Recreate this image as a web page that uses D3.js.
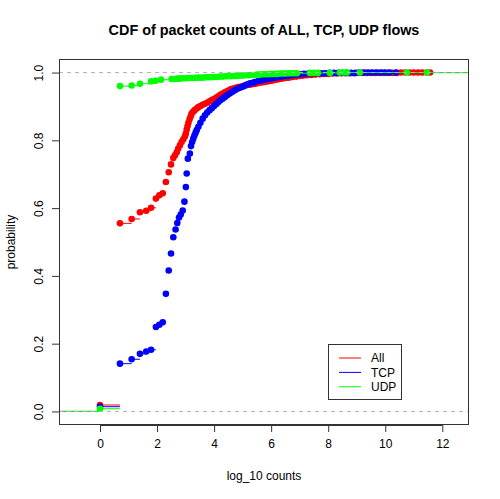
<!DOCTYPE html>
<html>
<head>
<meta charset="utf-8">
<script src="https://cdn.jsdelivr.net/npm/d3@7"></script>
<style>
  html, body { margin: 0; padding: 0; background: #fff; }
  svg { display: block; font-family: "Liberation Sans", Arial, sans-serif; }
</style>
</head>
<body>
<svg id="chart" width="500" height="499"></svg>
<script>
// ---- data ----
const seriesNames = ["All", "TCP", "UDP"];
const xTicks = [0, 2, 4, 6, 8, 10, 12];
const yTicks = [0, 0.2, 0.4, 0.6, 0.8, 1.0];

const allPts = [[0,0.019],[0.70,0.555],[1.11,0.568],[1.40,0.588],[1.62,0.592],[1.79,0.601],[1.96,0.628],[2.08,0.638],[2.20,0.644],[2.31,0.677],[2.41,0.706],[2.49,0.729],[2.57,0.748],[2.63,0.756],[2.69,0.765],[2.74,0.775],[2.80,0.785],[2.86,0.795],[2.92,0.803],[2.98,0.812],[3.01,0.820],[3.04,0.832],[3.07,0.842],[3.10,0.852],[3.14,0.862],[3.18,0.871],[3.21,0.878],[3.26,0.884],[3.32,0.889],[3.39,0.894],[3.45,0.898],[3.52,0.901],[3.60,0.905],[3.68,0.908],[3.76,0.911],[3.84,0.915],[3.92,0.919],[4.00,0.922],[4.08,0.926],[4.15,0.930],[4.22,0.934],[4.30,0.938],[4.38,0.942],[4.45,0.945],[4.52,0.948],[4.60,0.951],[4.68,0.953],[4.76,0.955],[4.85,0.957],[4.95,0.959],[5.05,0.961],[5.15,0.963],[5.25,0.964],[5.35,0.966],[5.45,0.967],[5.55,0.969],[5.67,0.971],[5.78,0.972],[5.90,0.974],[6.02,0.976],[6.13,0.978],[6.25,0.980],[6.37,0.982],[6.50,0.984],[6.62,0.985],[6.75,0.987],[6.88,0.988],[7.00,0.990],[7.13,0.991],[7.26,0.992],[7.40,0.993],[7.55,0.994],[7.70,0.995],[7.85,0.996],[8.00,0.996],[8.15,0.997],[8.30,0.997],[8.45,0.998],[8.60,0.998],[8.75,0.998],[8.90,0.998],[9.05,0.999],[9.20,0.999],[9.35,0.999],[9.50,0.999],[9.65,0.999],[9.80,0.999],[9.95,0.999],[10.10,0.999],[10.25,0.999],[10.40,0.999],[10.55,1.0],[10.70,1.0],[10.85,1.0],[11.00,1.0],[11.15,1.0],[11.30,1.0],[11.45,1.0],[11.57,1.0]];

const tcpPts = [[0,0.014],[0.70,0.141],[1.11,0.154],[1.40,0.170],[1.62,0.177],[1.79,0.182],[1.96,0.249],[2.08,0.256],[2.20,0.263],[2.31,0.347],[2.41,0.416],[2.49,0.466],[2.57,0.514],[2.65,0.537],[2.71,0.556],[2.77,0.572],[2.83,0.581],[2.90,0.593],[2.96,0.619],[3.01,0.662],[3.04,0.702],[3.08,0.746],[3.15,0.761],[3.19,0.783],[3.23,0.795],[3.27,0.805],[3.31,0.814],[3.35,0.822],[3.39,0.830],[3.45,0.840],[3.52,0.852],[3.60,0.864],[3.68,0.874],[3.76,0.882],[3.84,0.889],[3.92,0.895],[4.00,0.901],[4.08,0.907],[4.15,0.913],[4.22,0.918],[4.30,0.923],[4.38,0.928],[4.46,0.933],[4.55,0.938],[4.64,0.943],[4.73,0.948],[4.82,0.952],[4.91,0.955],[5.00,0.958],[5.08,0.962],[5.17,0.965],[5.26,0.968],[5.35,0.970],[5.43,0.972],[5.55,0.975],[5.67,0.977],[5.78,0.979],[5.90,0.981],[6.02,0.983],[6.13,0.985],[6.25,0.986],[6.37,0.988],[6.50,0.990],[6.62,0.991],[6.75,0.992],[6.88,0.994],[7.00,0.995],[7.15,0.996],[7.30,0.997],[7.45,0.997],[7.60,0.998],[7.75,0.998],[7.90,0.998],[8.05,0.999],[8.20,0.999],[8.35,0.999],[8.50,0.999],[8.65,0.999],[8.80,0.999],[8.95,0.999],[9.10,1.0],[9.25,1.0],[9.40,1.0],[9.55,1.0],[9.70,1.0],[9.85,1.0],[10.00,1.0],[10.15,1.0],[10.37,1.0]];

const udpPts = [[0,0.008],[0.70,0.960],[1.11,0.962],[1.40,0.967],[1.79,0.974],[1.95,0.976],[2.14,0.979],[2.51,0.981],[2.60,0.981],[2.70,0.982],[2.80,0.982],[2.90,0.983],[3.00,0.983],[3.10,0.984],[3.20,0.984],[3.30,0.984],[3.40,0.985],[3.50,0.985],[3.60,0.985],[3.70,0.986],[3.80,0.986],[3.90,0.986],[4.00,0.987],[4.10,0.987],[4.20,0.988],[4.30,0.988],[4.40,0.989],[4.50,0.989],[4.60,0.989],[4.70,0.990],[4.80,0.990],[4.90,0.991],[5.00,0.991],[5.10,0.992],[5.20,0.992],[5.30,0.993],[5.40,0.993],[5.50,0.994],[5.60,0.994],[5.70,0.995],[5.80,0.995],[5.90,0.995],[6.00,0.996],[6.10,0.996],[6.20,0.996],[6.30,0.997],[6.40,0.997],[6.50,0.997],[6.60,0.998],[6.70,0.998],[6.80,0.998],[6.90,0.998],[7.36,0.999],[7.50,0.999],[7.64,0.999],[8.06,0.999],[8.41,1.0],[8.55,1.0],[8.66,1.0],[9.11,1.0],[10.76,1.0],[11.46,1.0]];

const seriesData = [allPts, tcpPts, udpPts];
const seriesColors = ["#FF0000", "#0000FF", "#00FF00"];

// ---- layout ----
const svg = d3.select("#chart");
const L = 59, R = 469, T = 59, B = 425;
const x = d3.scaleLinear().domain([-1.437, 12.936]).range([L, R]);
const y = d3.scaleLinear().domain([-0.04, 1.04]).range([B, T]);

const plot = svg.append("g");

seriesData.forEach((pts, i) => {
  const col = seriesColors[i];
  const g = plot.append("g");
  // step segments
  const segs = [];
  segs.push([x.domain()[0], pts[0][0], 0]);
  for (let k = 0; k < pts.length; k++) {
    const x2 = k < pts.length - 1 ? pts[k + 1][0] : x.domain()[1];
    segs.push([pts[k][0], x2, pts[k][1]]);
  }
  g.selectAll("line").data(segs).join("line")
    .attr("x1", d => x(d[0])).attr("x2", d => x(d[1]))
    .attr("y1", d => y(d[2])).attr("y2", d => y(d[2]))
    .attr("stroke", col).attr("stroke-width", 1);
  g.selectAll("circle").data(pts).join("circle")
    .attr("cx", d => x(d[0])).attr("cy", d => y(d[1]))
    .attr("r", 3.3).attr("fill", col);
});

// dashed 0/1 lines
plot.selectAll("line.ref").data([0, 1]).join("line")
  .attr("class", "ref")
  .attr("x1", L).attr("x2", R)
  .attr("y1", d => y(d)).attr("y2", d => y(d))
  .attr("stroke", "#B3B3B3").attr("stroke-width", 1)
  .attr("stroke-dasharray", "4,4");

// box
svg.append("rect")
  .attr("x", L + 0.5).attr("y", T + 0.5)
  .attr("width", R - L - 1).attr("height", B - T - 1)
  .attr("fill", "none").attr("stroke", "#333").attr("stroke-width", 1);

// axes
const xAxis = d3.axisBottom(x).tickValues(xTicks).tickSize(7).tickPadding(7).tickFormat(d3.format("d"));
const gx = svg.append("g").attr("transform", `translate(0,${B})`).call(xAxis);
gx.select(".domain").attr("d", `M${x(0)},0.5H${x(12)}`).attr("stroke", "#333");
gx.selectAll(".tick line").attr("stroke", "#333");
gx.selectAll("text").attr("font-size", 12).attr("fill", "#000").attr("font-family", "Liberation Sans, Arial, sans-serif");

const yAxis = d3.axisLeft(y).tickValues(yTicks).tickSize(7).tickFormat(d3.format(".1f"));
const gy = svg.append("g").attr("transform", `translate(${L},0)`).call(yAxis);
gy.select(".domain").attr("d", `M0.5,${y(0)}V${y(1)}`).attr("stroke", "#333");
gy.selectAll(".tick line").attr("stroke", "#333");
gy.selectAll("text")
  .attr("font-size", 12).attr("fill", "#000").attr("font-family", "Liberation Sans, Arial, sans-serif")
  .attr("x", null).attr("dy", null)
  .attr("text-anchor", "middle")
  .attr("transform", "translate(-16,0) rotate(-90)");

// titles
svg.append("text").attr("x", (L + R) / 2).attr("y", 35)
  .attr("text-anchor", "middle").attr("font-weight", "bold").attr("font-size", 14.4)
  .text("CDF of packet counts of ALL, TCP, UDP flows");
svg.append("text").attr("x", (L + R) / 2).attr("y", 480)
  .attr("text-anchor", "middle").attr("font-size", 12)
  .text("log_10 counts");
svg.append("text").attr("transform", `translate(15,${(T + B) / 2}) rotate(-90)`)
  .attr("text-anchor", "middle").attr("font-size", 12)
  .text("probability");

// legend
const lg = svg.append("g");
lg.append("rect").attr("x", 328.5).attr("y", 344.5).attr("width", 73).attr("height", 55)
  .attr("fill", "#fff").attr("stroke", "#333");
seriesNames.forEach((n, i) => {
  const yy = 358 + i * 14.4;
  lg.append("line").attr("x1", 339).attr("x2", 361).attr("y1", yy).attr("y2", yy)
    .attr("stroke", seriesColors[i]).attr("stroke-width", 1);
  lg.append("text").attr("x", 371).attr("y", yy + 4.3).attr("font-size", 12).text(n);
});
</script>
</body>
</html>
